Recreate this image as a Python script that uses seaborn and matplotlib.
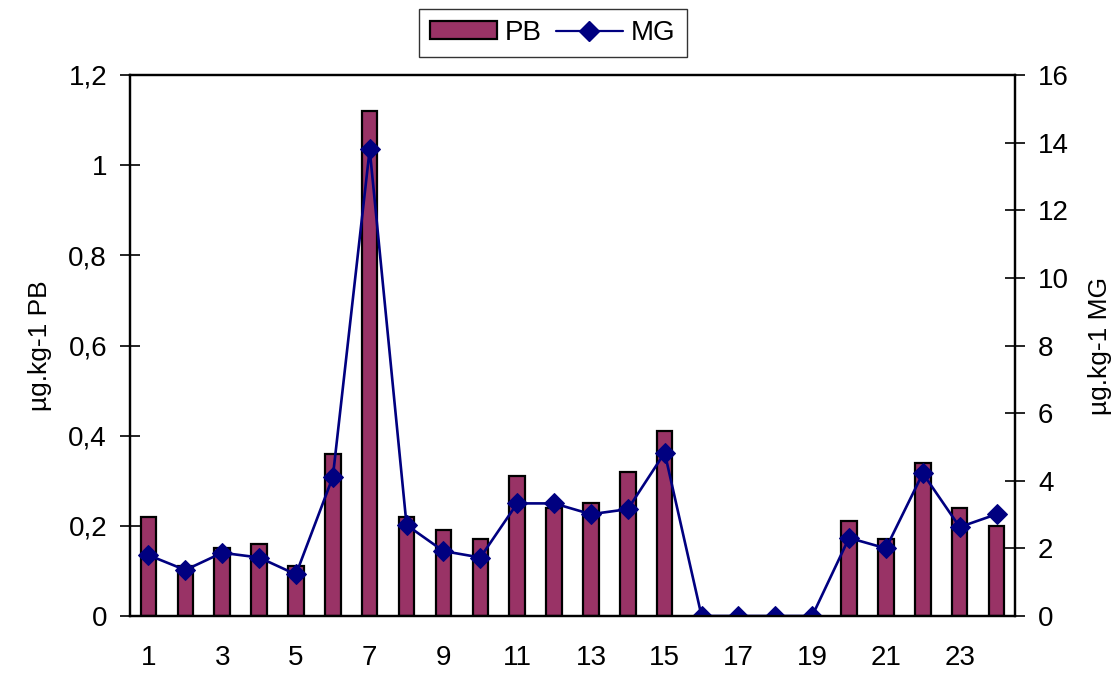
import numpy as np
import pandas as pd
import seaborn as sns
import matplotlib
matplotlib.use("Agg")
import matplotlib.pyplot as plt
from matplotlib.ticker import FixedLocator, FuncFormatter
from matplotlib.lines import Line2D
from matplotlib.patches import Patch

samples = list(range(1, 25))
pb = [0.22, 0.11, 0.15, 0.16, 0.11, 0.36, 1.12, 0.22, 0.19, 0.17, 0.31, 0.24,
      0.25, 0.32, 0.41, 0.0, 0.0, 0.0, 0.0, 0.21, 0.17, 0.34, 0.24, 0.20]
mg = [1.80, 1.36, 1.87, 1.73, 1.23, 4.11, 13.8, 2.69, 1.92, 1.73, 3.33, 3.33,
      3.01, 3.16, 4.83, 0.0, 0.0, 0.0, 0.0, 2.31, 2.00, 4.22, 2.63, 3.01]
left_ticks = [0, 0.2, 0.4, 0.6, 0.8, 1.0, 1.2]
right_ticks = [0, 2, 4, 6, 8, 10, 12, 14, 16]

df = pd.DataFrame({"sample": samples, "PB": pb, "MG": mg})
df["pos"] = np.arange(len(df))

sns.set_theme(style="white")
plt.rcParams["font.family"] = ["Liberation Sans", "DejaVu Sans"]
plt.rcParams["text.color"] = "black"
plt.rcParams["axes.labelcolor"] = "black"
plt.rcParams["xtick.color"] = "black"
plt.rcParams["ytick.color"] = "black"

BAR_COLOR = "#993366"
LINE_COLOR = "#000080"

fig = plt.figure(figsize=(11.14, 6.73), dpi=100)
ax = fig.add_axes([130 / 1114, 1 - 616 / 673, 885 / 1114, 541 / 673])

sns.barplot(data=df, x="pos", y="PB", color=BAR_COLOR, saturation=1,
            width=0.42, edgecolor="black", linewidth=1.6, ax=ax)
ax.set_ylim(0, 1.2)
ax.set_xlim(-0.5, len(df) - 0.5)

ax2 = ax.twinx()
sns.lineplot(data=df, x="pos", y="MG", color=LINE_COLOR, linewidth=1.9,
             marker="D", markersize=10, markeredgecolor=LINE_COLOR, ax=ax2)
ax2.set_ylim(0, 16)
ax2.set_xlim(-0.5, len(df) - 0.5)

comma = FuncFormatter(lambda v, p: ("%g" % round(v, 2)).replace(".", ","))
ax.yaxis.set_major_locator(FixedLocator(left_ticks))
ax.yaxis.set_major_formatter(comma)
ax2.yaxis.set_major_locator(FixedLocator(right_ticks))

# x labels on odd sample numbers, tick marks on category borders
ax.xaxis.set_major_locator(FixedLocator(df["pos"][::2].tolist()))
ax.set_xticklabels(df["sample"][::2].tolist())
ax.xaxis.set_minor_locator(FixedLocator(np.arange(len(df) + 1) - 0.5))
ax.tick_params(axis="x", which="major", length=0, pad=21, labelsize=20)
ax.tick_params(axis="x", which="minor", direction="inout", length=15, width=1.2)
ax.tick_params(axis="y", direction="inout", length=15, width=1.2, labelsize=20, pad=9)
ax2.tick_params(axis="y", direction="inout", length=15, width=1.2, labelsize=20, pad=9)

for a in (ax, ax2):
    for s in a.spines.values():
        s.set_visible(True)
        s.set_color("black")
        s.set_linewidth(1.6)

ax.set_xlabel("")
ax.set_ylabel("µg.kg-1 PB", fontsize=19, labelpad=12)
ax2.set_ylabel("µg.kg-1 MG", fontsize=19, rotation=90, labelpad=14)

handles = [Patch(facecolor=BAR_COLOR, edgecolor="black", linewidth=1.6),
           Line2D([], [], color=LINE_COLOR, marker="D", markersize=10, linewidth=1.6)]
leg = fig.legend(handles, ["PB", "MG"], loc="center", ncol=2,
                 bbox_to_anchor=(553 / 1114, 1 - 33 / 673), fontsize=20,
                 frameon=True, fancybox=False, edgecolor="black",
                 handlelength=2.4, handleheight=0.6, columnspacing=0.5,
                 handletextpad=0.3, borderpad=0.4)
leg.get_frame().set_linewidth(1.0)

fig.savefig("out.png", dpi=100)
